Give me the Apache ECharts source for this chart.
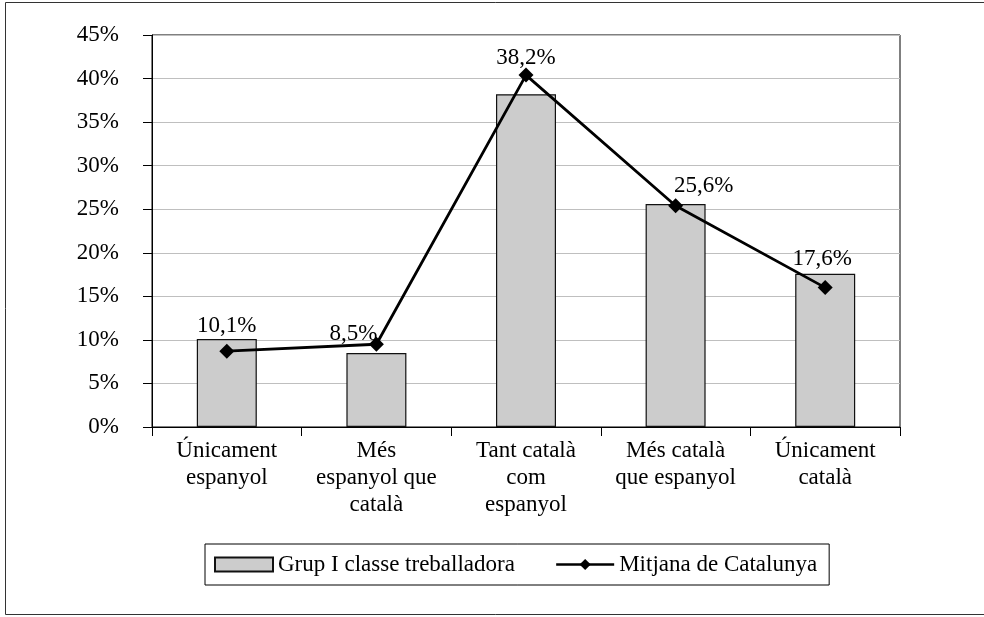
<!DOCTYPE html>
<html>
<head>
<meta charset="utf-8">
<script src="https://cdn.jsdelivr.net/npm/echarts@6/dist/echarts.min.js"></script>
<style>
  html, body { margin: 0; padding: 0; background: #fff; }
  #chart { width: 984px; height: 617px; }
</style>
</head>
<body>
<div id="chart"></div>
<script>
const categories = [
    'Únicament\nespanyol',
    'Més\nespanyol que\ncatalà',
    'Tant català\ncom\nespanyol',
    'Més català\nque espanyol',
    'Únicament\ncatalà'
];
const grupValues = [10.1, 8.5, 38.2, 25.6, 17.6];
const mitjanaValues = [8.7, 9.5, 40.4, 25.4, 16.0];
const seriesNames = ['Grup I classe treballadora', 'Mitjana de Catalunya'];

const FONT = '"Liberation Serif", "DejaVu Serif", serif';
const FS = 23;

// desplaçaments manuals de les etiquetes (com al gràfic original)
const labelShift = [[0, 0], [-23, -6], [0, -23], [28, -5], [-3, -1]];

const chart = echarts.init(document.getElementById('chart'));

const option = {
    animation: false,
    textStyle: { fontFamily: FONT, color: '#000' },
    graphic: [{
        type: 'rect',
        shape: { x: 5.5, y: 2.5, width: 990, height: 612 },
        style: { fill: 'none', stroke: '#333', lineWidth: 1 },
        silent: true
    }],
    grid: {
        left: 152,
        right: 84,
        top: 35,
        bottom: 190,
        show: true,
        borderColor: '#000',
        borderWidth: 1
    },
    legend: {
        left: 205,
        top: 544,
        padding: [9, 12, 9, 9],
        itemGap: 40,
        itemWidth: 58,
        itemHeight: 14,
        borderColor: '#000',
        borderWidth: 1,
        textStyle: { fontFamily: FONT, fontSize: FS, color: '#000' },
        data: [
            { name: seriesNames[0], icon: 'rect' },
            { name: seriesNames[1], lineStyle: { width: 2.5 } }
        ]
    },
    xAxis: {
        type: 'category',
        data: categories,
        axisLine: { lineStyle: { color: '#000', width: 1 } },
        axisTick: { show: true, length: 9, lineStyle: { color: '#000' } },
        axisLabel: {
            fontFamily: FONT,
            fontSize: FS,
            color: '#000',
            lineHeight: 27,
            margin: 10,
            interval: 0
        }
    },
    yAxis: {
        type: 'value',
        min: 0,
        max: 45,
        interval: 5,
        axisLine: { show: true, lineStyle: { color: '#000', width: 1 } },
        axisTick: { show: true, length: 9, lineStyle: { color: '#000' } },
        axisLabel: {
            fontFamily: FONT,
            fontSize: FS,
            color: '#000',
            margin: 33,
            formatter: '{value}%'
        },
        splitLine: { lineStyle: { color: '#bfbfbf', width: 1 } }
    },
    series: [
        {
            name: seriesNames[0],
            type: 'bar',
            barWidth: 60,
            itemStyle: { color: '#cccccc', borderColor: '#111', borderWidth: 1.2 },
            data: grupValues.map(function (v, i) {
                return { value: v, label: { offset: labelShift[i] } };
            }),
            label: {
                show: true,
                position: 'top',
                distance: 2,
                fontFamily: FONT,
                fontSize: FS,
                color: '#000',
                formatter: function (p) {
                    return p.value.toFixed(1).replace('.', ',') + '%';
                }
            }
        },
        {
            name: seriesNames[1],
            type: 'line',
            data: mitjanaValues,
            symbol: 'diamond',
            symbolSize: 15,
            lineStyle: { color: '#000', width: 2.8 },
            itemStyle: { color: '#000' },
            z: 5
        }
    ]
};

chart.setOption(option);
</script>
</body>
</html>
